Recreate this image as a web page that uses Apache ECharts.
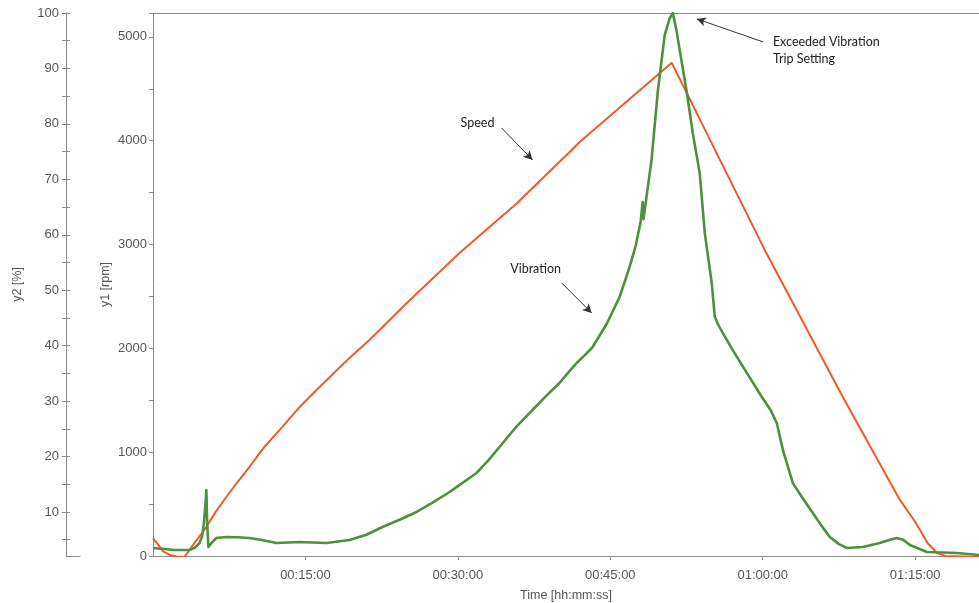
<!DOCTYPE html>
<html>
<head>
<meta charset="utf-8">
<script src="https://cdn.jsdelivr.net/npm/echarts@6/dist/echarts.min.js"></script>
<style>
  html, body { margin: 0; padding: 0; background: #ffffff; }
  #chart { width: 979px; height: 603px; }
</style>
</head>
<body>
<div id="chart"></div>
<script>
// Run-up / coast-down record: time in seconds from start of recording
const speedTime = [0, 30, 60, 100, 140, 185, 215, 244, 280, 315, 370, 433, 500, 569, 660, 764, 860, 965, 1160, 1278, 1500, 1810, 2150, 2472, 2519, 3063, 3465, 3612, 4073, 4410, 4500, 4575, 4630, 4676, 4877];
const speedRpm  = [173, 110, 45, 10, -5, -10, 55, 125, 200, 279, 425, 568, 715, 857, 1055, 1243, 1425, 1599, 1908, 2081, 2440, 2919, 3400, 3911, 3988, 4750, 3430, 2948, 1532, 540, 330, 120, 30, 0, -10];

const vibTime = [0, 126, 214, 250, 274, 290, 300, 310, 315, 320, 327, 340, 350, 374, 433, 500, 569, 650, 729, 864, 1024, 1160, 1260, 1355, 1456, 1556, 1651, 1751, 1830, 1910, 1980, 2046, 2140, 2241, 2320, 2400, 2450, 2501, 2550, 2596, 2680, 2755, 2814, 2850, 2879, 2891, 2896, 2902, 2944, 2980, 3021, 3050, 3069, 3090, 3110, 3152, 3187, 3228, 3258, 3299, 3317, 3340, 3364, 3423, 3506, 3595, 3650, 3683, 3719, 3778, 3840, 3896, 3950, 3996, 4050, 4097, 4191, 4291, 4350, 4392, 4430, 4469, 4570, 4747, 4877];
const vibPct  = [3.5, 3.14, 3.14, 3.6, 4.4, 5.6, 7.8, 11.5, 13.97, 8.0, 3.68, 4.2, 4.59, 5.31, 5.49, 5.45, 5.31, 4.9, 4.4, 4.59, 4.4, 4.95, 5.9, 7.29, 8.6, 10.0, 11.7, 13.6, 15.3, 17.03, 19.3, 21.72, 25.2, 28.39, 30.9, 33.27, 35.1, 36.87, 38.3, 39.76, 44.0, 48.78, 54.19, 58.0, 62.31, 65.91, 62.8, 63.0, 73.6, 85.7, 95.96, 99.0, 100, 97.0, 93.3, 85.6, 78.36, 71.14, 60.3, 51.3, 45.2, 43.6, 42.3, 39.2, 35.1, 30.74, 28.2, 26.05, 21.2, 15.2, 12.3, 9.8, 7.4, 5.5, 4.2, 3.5, 3.68, 4.4, 5.0, 5.3, 5.0, 4.04, 2.78, 2.6, 2.24];

// Axis ranges and tick values
const timeMax = 4877;
const timeStep = 900;
const rpmMax = 5230;
const pctMin = 2.06;
const pctMax = 100;
const pctLabelValues = [10, 20, 30, 40, 50, 60, 70, 80, 90, 100];
const pctTickValues = [5, 10, 15, 20, 25, 30, 35, 40, 45, 50, 55, 60, 65, 70, 75, 80, 85, 90, 95, 100];

// Annotation texts and anchor points [time, rpm]
const speedNote = { text: 'Speed', at: [1916, 4171], from: [2058, 4123], to: [2241, 3815] };
const vibNote   = { text: 'Vibration', at: [2259, 2765], from: [2413, 2630], to: [2590, 2341] };
const tripNote  = { text: 'Exceeded Vibration\nTrip Setting', at: [3660, 4865], from: [3601, 4952], to: [3211, 5173] };

const pad = n => String(n).padStart(2, '0');
function hms(sec) {
  const h = Math.floor(sec / 3600), m = Math.floor((sec % 3600) / 60), s = Math.round(sec % 60);
  return pad(h) + ':' + pad(m) + ':' + pad(s);
}

const axisColor = '#8a8a8a';
const labelColor = '#555555';
const labelFont = 'Liberation Sans, Arial, sans-serif';
const noteFont = 'Lato, Carlito, sans-serif';

const chart = echarts.init(document.getElementById('chart'), null, { renderer: 'canvas' });

const noteLabel = (note, align) => ({
  coord: note.at,
  symbol: 'circle',
  symbolSize: 1,
  itemStyle: { color: 'rgba(0,0,0,0)' },
  label: {
    show: true, position: 'inside', formatter: note.text, align: align, verticalAlign: 'middle',
    color: '#222', fontFamily: noteFont, fontSize: 12.5, lineHeight: 17
  }
});
const arrow = note => [{ coord: note.from }, { coord: note.to }];

chart.setOption({
  animation: false,
  backgroundColor: '#ffffff',
  grid: [
    { left: 153, right: 0, top: 13, bottom: 47, outerBoundsMode: 'none', containLabel: false },
    { left: 66, width: 14, top: 13, bottom: 47, outerBoundsMode: 'none', containLabel: false }
  ],
  xAxis: [
    {
      gridIndex: 0, type: 'value', min: 0, max: timeMax, interval: timeStep,
      name: 'Time [hh:mm:ss]', nameLocation: 'middle', nameGap: 33, nameMoveOverlap: false,
      nameTextStyle: { color: labelColor, fontFamily: labelFont, fontSize: 12.5 },
      axisLine: { show: true, lineStyle: { color: axisColor, width: 1 } },
      axisTick: { show: true, length: 4, lineStyle: { color: axisColor } },
      axisLabel: {
        color: labelColor, fontFamily: labelFont, fontSize: 13, margin: 13,
        showMinLabel: false, showMaxLabel: false,
        formatter: v => (v === 0 ? '' : hms(v))
      },
      splitLine: { show: false }
    },
    {
      gridIndex: 0, type: 'value', position: 'top', min: 0, max: timeMax,
      axisLine: { show: true, lineStyle: { color: axisColor, width: 1 } },
      axisTick: { show: false }, axisLabel: { show: false }, splitLine: { show: false }
    },
    {
      gridIndex: 1, type: 'value', min: 0, max: 1,
      axisLine: { show: true, onZero: false, lineStyle: { color: axisColor, width: 1 } },
      axisTick: { show: false }, axisLabel: { show: false }, splitLine: { show: false }
    }
  ],
  yAxis: [
    {
      gridIndex: 0, type: 'value', min: 0, max: rpmMax, interval: 1000,
      name: 'y1 [rpm]', nameLocation: 'middle', nameGap: 41, nameRotate: 90, nameMoveOverlap: false,
      nameTextStyle: { color: labelColor, fontFamily: labelFont, fontSize: 12.5 },
      axisLine: { show: true, lineStyle: { color: axisColor, width: 1 } },
      axisTick: { show: true, length: 4, lineStyle: { color: axisColor } },
      minorTick: { show: true, splitNumber: 2, length: 4, lineStyle: { color: axisColor } },
      axisLabel: {
        color: labelColor, fontFamily: labelFont, fontSize: 13, margin: 6,
        showMaxLabel: false, formatter: v => String(v)
      },
      splitLine: { show: false }
    },
    {
      // vibration scale in the plot area, shares the y2 [%] range
      gridIndex: 0, type: 'value', min: pctMin, max: pctMax, show: false,
      splitLine: { show: false }
    },
    {
      gridIndex: 1, type: 'value', min: pctMin, max: pctMax, position: 'left', offset: 0,
      name: 'y2 [%]', nameLocation: 'middle', nameGap: 42, nameRotate: 90,
      nameTextStyle: { color: labelColor, fontFamily: labelFont, fontSize: 12.5 },
      axisLine: { show: true, lineStyle: { color: axisColor, width: 1 } },
      axisTick: { show: true, length: 4, customValues: pctTickValues, lineStyle: { color: axisColor } },
      axisLabel: {
        color: labelColor, fontFamily: labelFont, fontSize: 13, margin: 7,
        customValues: pctLabelValues
      },
      splitLine: { show: false }
    },
    {
      // inner half of the y2 tick marks
      gridIndex: 1, type: 'value', min: pctMin, max: pctMax, position: 'left', offset: 0,
      axisLine: { show: false },
      axisTick: { show: true, inside: true, length: 4, customValues: pctTickValues, lineStyle: { color: axisColor } },
      axisLabel: { show: false },
      splitLine: { show: false }
    }
  ],
  series: [
    {
      name: 'Speed', type: 'line', xAxisIndex: 0, yAxisIndex: 0,
      data: speedTime.map((t, i) => [t, speedRpm[i]]),
      showSymbol: false, smooth: false,
      lineStyle: { color: '#f05a2a', width: 2 },
      z: 3,
      markLine: {
        silent: true, symbol: ['none', 'arrow'], symbolSize: [7, 9],
        lineStyle: { color: '#333333', width: 1, type: 'solid' },
        label: { show: false },
        emphasis: { disabled: true },
        data: [arrow(speedNote), arrow(vibNote), arrow(tripNote)]
      },
      markPoint: {
        silent: true,
        data: [noteLabel(speedNote, 'center'), noteLabel(vibNote, 'center'), noteLabel(tripNote, 'left')]
      }
    },
    {
      name: 'Vibration', type: 'line', xAxisIndex: 0, yAxisIndex: 1,
      data: vibTime.map((t, i) => [t, vibPct[i]]),
      showSymbol: false, smooth: false,
      lineStyle: { color: '#4f8f3d', width: 2.6, join: 'round' },
      z: 4
    }
  ]
});
</script>
</body>
</html>
